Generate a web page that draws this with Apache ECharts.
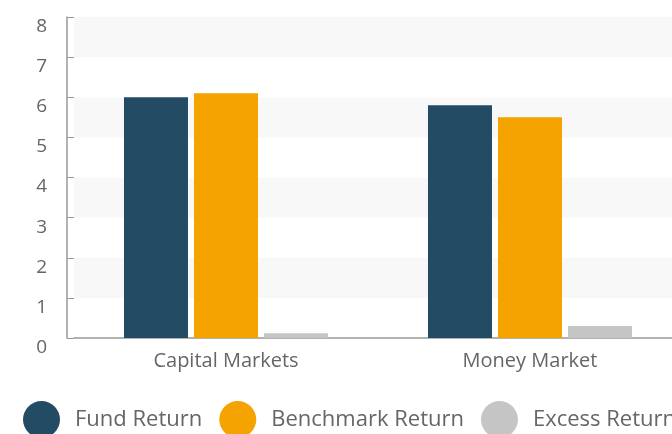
<!DOCTYPE html>
<html>
<head>
<meta charset="utf-8">
<script src="https://cdn.jsdelivr.net/npm/echarts@6/dist/echarts.min.js"></script>
<style>
  html, body { margin: 0; padding: 0; background: #fff; }
  #chart { width: 672px; height: 434px; }
</style>
</head>
<body>
<div id="chart"></div>
<script>
    'use strict';
    // values
    var categories = ['Capital Markets', 'Money Market'];
    var fundReturn = [6.0, 5.8];
    var benchmarkReturn = [6.1, 5.5];
    var excessReturn = [0.12, 0.3];
    var seriesNames = ['Fund Return', 'Benchmark Return', 'Excess Return'];
    var colors = ['#244b64', '#f5a300', '#c5c5c5'];

    var font = '"Open Sans", "Noto Sans", sans-serif';

    var myChart = echarts.init(document.getElementById('chart'));

    function barSeries(name, values) {
        return {
            name: name,
            type: 'bar',
            data: values,
            barWidth: 64,
            barGap: '9.4%',
            animation: false
        };
    }

    var option = {
        color: colors,
        textStyle: { fontFamily: font },
        legend: {
            left: 23,
            top: 401,
            width: 700,
            padding: 0,
            icon: 'circle',
            itemWidth: 37,
            itemHeight: 37,
            itemGap: 17,
            textStyle: { fontSize: 22, color: '#666', fontFamily: font, padding: [0, 0, 0, 10] },
            data: seriesNames
        },
        grid: {
            left: 74,
            width: 608,
            top: 17,
            bottom: 96,
            containLabel: false,
            outerBoundsMode: 'none'
        },
        xAxis: {
            type: 'category',
            data: categories,
            axisLine: { lineStyle: { color: '#999', width: 1.5 } },
            axisTick: { inside: true, length: 7, lineStyle: { color: '#999' } },
            axisLabel: { fontSize: 20, color: '#666', margin: 13, fontFamily: font }
        },
        yAxis: {
            type: 'value',
            min: 0,
            max: 8,
            interval: 1,
            offset: 7,
            axisLine: { show: true, lineStyle: { color: '#999', width: 1.5 } },
            axisTick: { show: true, inside: true, length: 7, lineStyle: { color: '#999' } },
            axisLabel: { fontSize: 19, color: '#666', margin: 20, verticalAlign: 'top', fontFamily: font },
            splitLine: { show: false },
            splitArea: { show: true, areaStyle: { color: ['#ffffff', '#f8f8f8'] } }
        },
        series: [
            barSeries(seriesNames[0], fundReturn),
            barSeries(seriesNames[1], benchmarkReturn),
            barSeries(seriesNames[2], excessReturn)
        ]
    };
    myChart.setOption(option);
</script>
</body>
</html>
